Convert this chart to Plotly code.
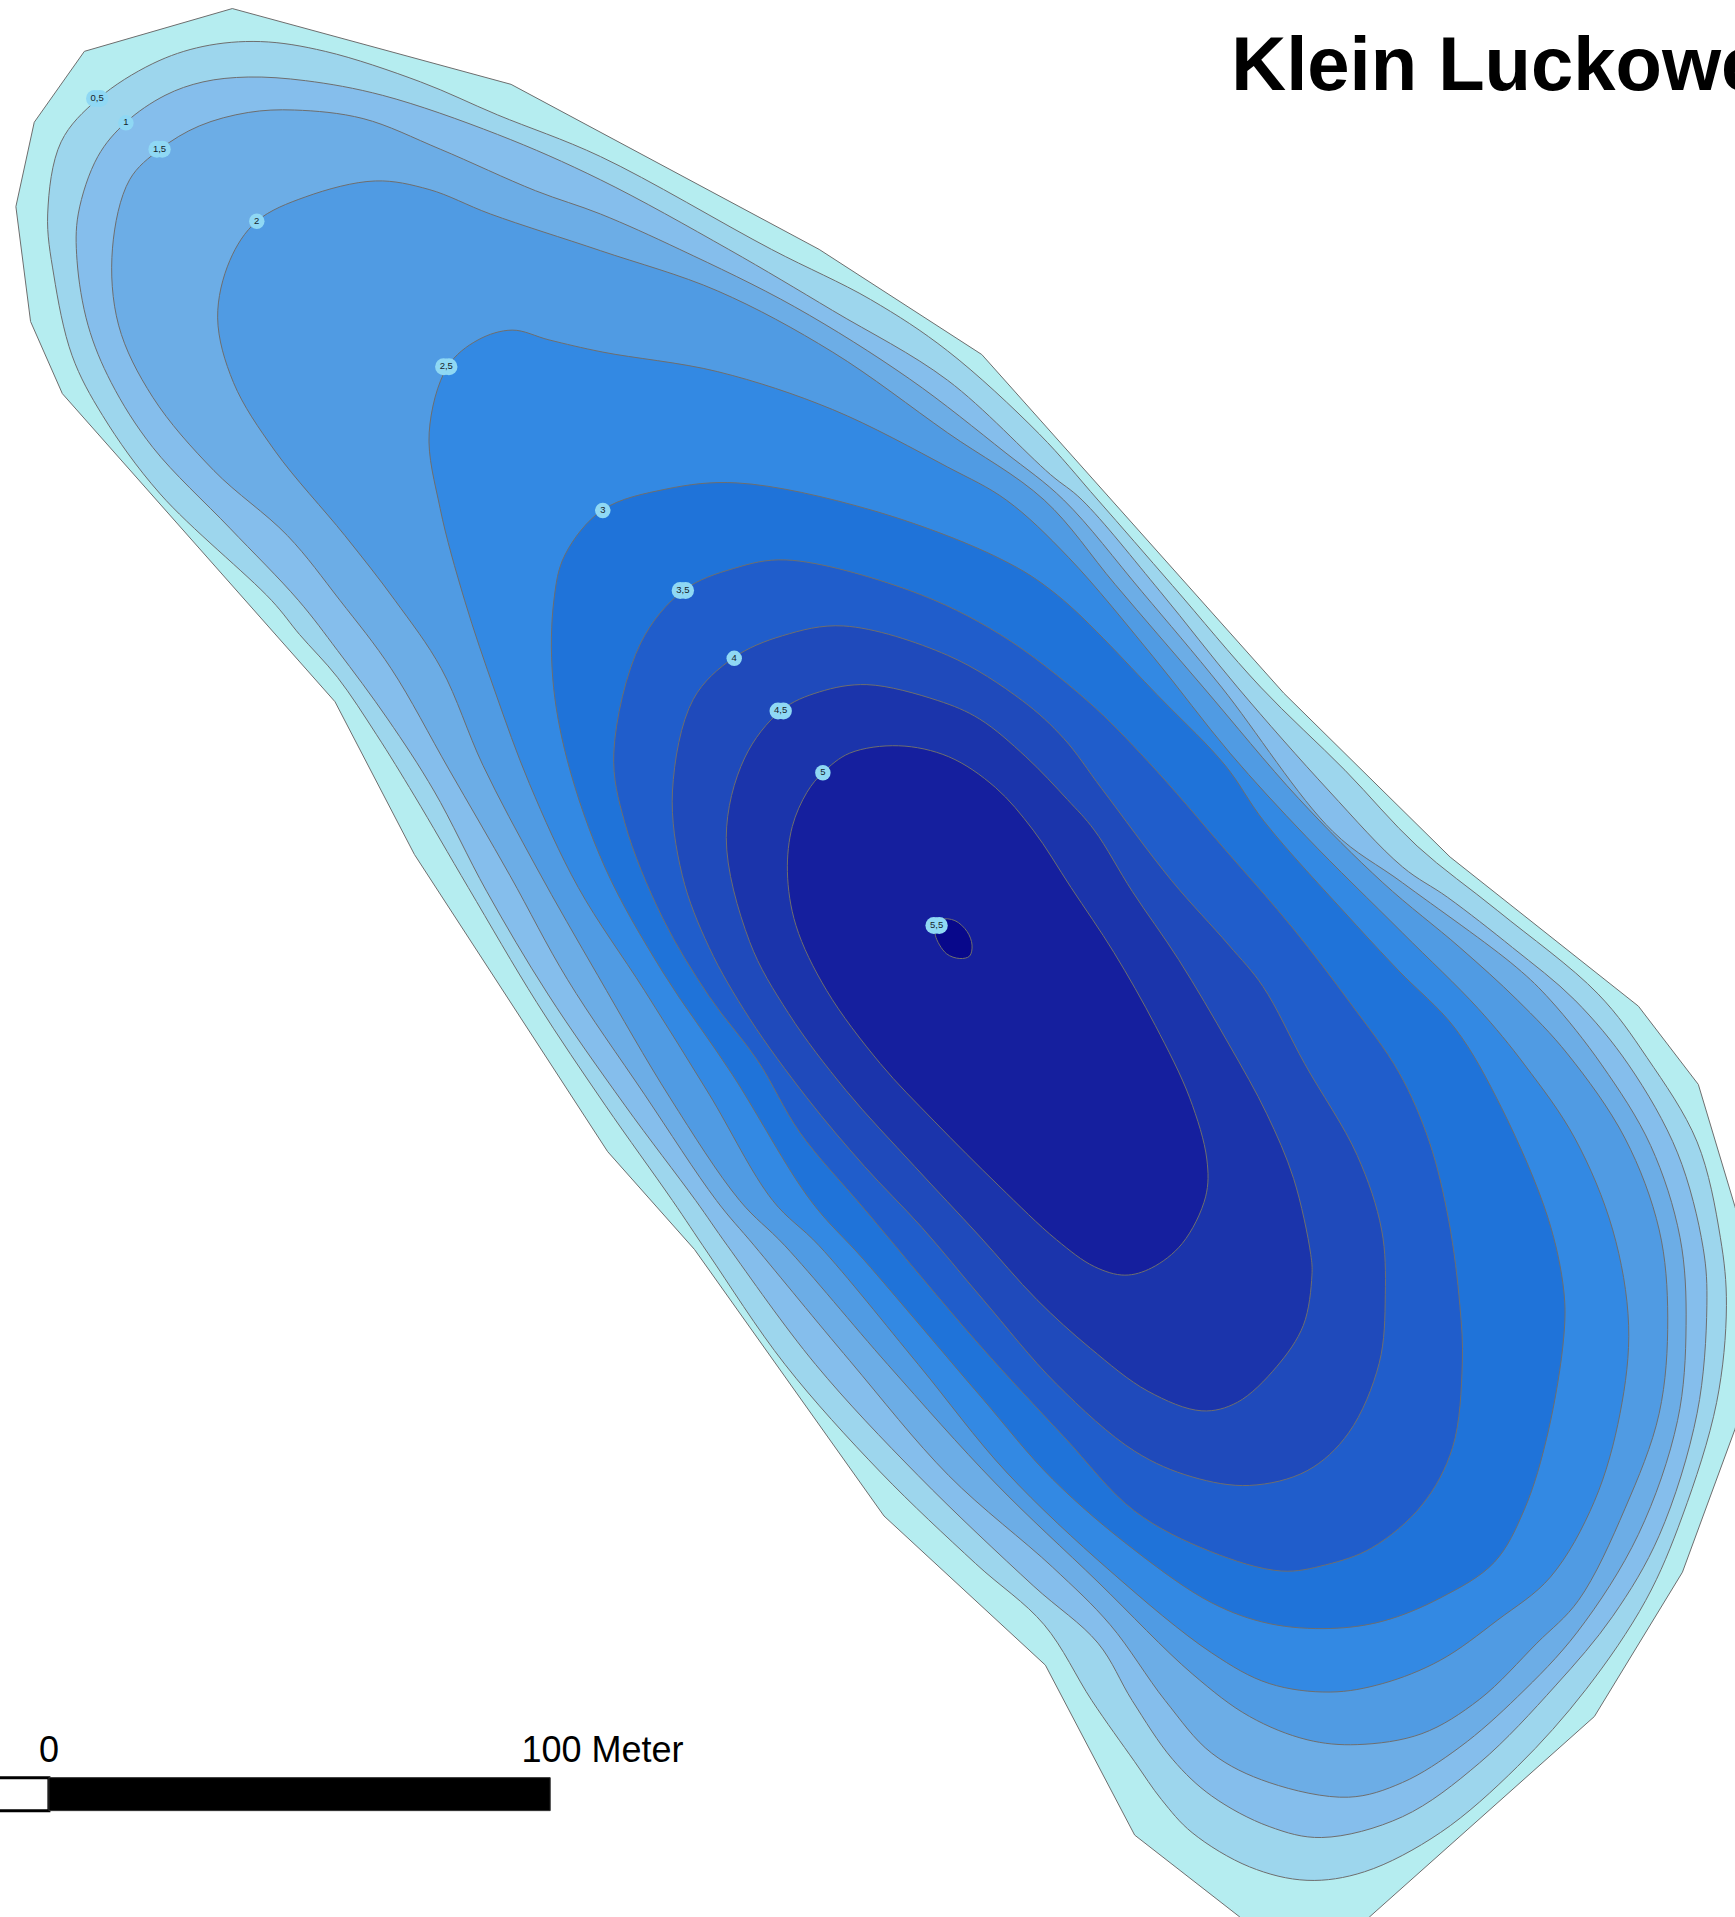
import plotly.graph_objects as go

# Map extent (map units; 410 units = 100 m)
map_width = 1419
map_height = 1568

shore = [(190,7),(418,69),(670,204),(803,290),(1050,567),(1186,701),(1340,823),(1389,887),(1419,987),(1434,1040),(1434,1110),(1419,1169),(1376,1286),(1304,1404),(1120,1568),(1095,1590),(1040,1590),(1014,1568),(928,1501),(855,1362),(723,1240),(568,1022),(497,942),(339,699),(274,574),(51,322),(25,263),(13,169),(28,100),(69,42),(190,7)]

depth_0_5 = [(80,81),(125,52),(166,38),(213,34),(266,42),(344,67),(407,94),(491,128),(631,204),(712,245),(775,287),(850,355),(898,409),(959,479),(1031,562),(1100,630),(1159,692),(1225,745),(1307,813),(1347,865),(1388,934),(1407,1012),(1412,1068),(1404,1147),(1376,1240),(1346,1309),(1297,1382),(1241,1445),(1178,1499),(1116,1531),(1069,1538),(1022,1527),(975,1499),(950,1472),(928,1441),(893,1391),(854,1329),(798,1279),(720,1204),(642,1116),(579,1025),(550,982),(495,904),(439,820),(383,726),(339,651),(308,601),(276,554),(245,519),(222,491),(131,404),(84,340),(59,291),(44,225),(39,175),(50,116),(80,81)]

depth_1 = [(103,100),(135,78),(166,67),(203,63),(250,66),(313,78),(407,110),(491,147),(596,204),(681,254),(775,311),(859,388),(885,409),(949,484),(1012,562),(1087,647),(1147,709),(1184,734),(1237,775),(1288,818),(1332,871),(1372,943),(1393,1021),(1396,1068),(1388,1156),(1357,1256),(1319,1322),(1272,1379),(1210,1442),(1147,1486),(1081,1503),(1038,1494),(991,1469),(959,1439),(926,1391),(898,1344),(845,1297),(751,1207),(667,1116),(595,1019),(569,982),(511,904),(448,813),(398,729),(355,647),(317,588),(276,532),(244,491),(188,432),(125,366),(91,313),(72,266),(63,213),(64,175),(80,128),(103,100)]

depth_1_5 = [(131,122),(163,103),(203,92),(241,90),(297,97),(360,122),(438,156),(491,175),(556,204),(650,251),(744,310),(822,370),(870,409),(934,484),(999,562),(1090,680),(1147,722),(1240,791),(1268,818),(1310,871),(1350,937),(1374,1012),(1379,1084),(1372,1162),(1340,1255),(1290,1335),(1241,1388),(1194,1429),(1147,1458),(1103,1470),(1038,1458),(991,1434),(953,1391),(908,1329),(861,1282),(776,1207),(695,1113),(617,1019),(586,982),(527,895),(464,801),(417,716),(367,629),(320,547),(278,491),(235,438),(175,385),(125,325),(97,266),(92,203),(106,147),(131,122)]

depth_2 = [(210,181),(250,161),(307,148),(351,155),(401,175),(491,205),(587,238),(681,288),(775,354),(854,409),(912,478),(984,562),(1062,653),(1131,722),(1194,775),(1241,818),(1282,862),(1329,931),(1357,1006),(1364,1078),(1357,1156),(1329,1234),(1291,1309),(1257,1344),(1210,1390),(1163,1418),(1110,1427),(1069,1423),(1022,1404),(975,1369),(898,1294),(814,1213),(726,1116),(642,1019),(605,982),(548,898),(489,798),(439,710),(395,626),(361,547),(323,491),(282,438),(225,369),(191,313),(178,260),(188,213),(210,181)]

depth_2_5 = [(366,300),(391,278),(419,270),(449,278),(493,288),(587,304),(681,335),(775,382),(823,409),(874,456),(943,537),(1006,616),(1068,684),(1147,763),(1209,825),(1247,871),(1288,931),(1319,1006),(1332,1084),(1325,1156),(1304,1228),(1268,1290),(1225,1325),(1178,1358),(1131,1377),(1088,1384),(1038,1377),(991,1352),(908,1285),(823,1204),(751,1116),(670,1019),(632,982),(580,895),(527,810),(473,726),(433,641),(405,566),(380,491),(360,416),(351,354),(366,300)]

depth_3 = [(493,417),(545,400),(603,395),(712,417),(818,457),(865,487),(951,573),(1002,626),(1034,672),(1104,751),(1144,794),(1190,841),(1228,906),(1266,996),(1279,1056),(1279,1093),(1266,1172),(1247,1234),(1222,1278),(1178,1307),(1131,1326),(1088,1332),(1038,1328),(991,1311),(928,1268),(861,1210),(801,1141),(707,1031),(663,982),(599,879),(542,795),(495,710),(464,622),(452,554),(453,491),(462,454),(493,417)]

depth_3_5 = [(559,483),(600,465),(643,458),(744,483),(818,519),(889,573),(939,623),(1002,695),(1058,760),(1104,820),(1144,877),(1169,934),(1185,999),(1194,1068),(1196,1115),(1188,1184),(1163,1231),(1122,1266),(1084,1280),(1048,1285),(990,1269),(928,1236),(870,1175),(801,1100),(707,989),(654,926),(620,868),(580,815),(542,751),(511,673),(502,616),(524,526),(559,483)]

depth_4 = [(600,538),(640,520),(690,512),(775,536),(836,573),(870,604),(901,645),(958,720),(1005,773),(1033,807),(1067,870),(1110,945),(1130,1006),(1133,1059),(1128,1115),(1103,1172),(1069,1203),(1022,1215),(975,1208),(928,1187),(864,1132),(804,1063),(754,1004),(707,954),(660,898),(613,833),(580,775),(558,716),(550,647),(567,572),(600,538)]

depth_4_5 = [(639,581),(670,566),(709,560),(767,573),(801,588),(839,619),(873,654),(895,679),(926,729),(964,785),(1005,854),(1036,911),(1058,964),(1072,1026),(1073,1043),(1066,1084),(1044,1118),(1012,1147),(983,1154),(939,1138),(892,1103),(848,1063),(801,1011),(748,954),(692,892),(645,829),(613,770),(594,685),(609,620),(639,581)]

depth_5 = [(673,632),(695,616),(735,610),(776,619),(814,644),(845,679),(876,726),(911,779),(945,839),(973,898),(987,948),(986,979),(967,1017),(942,1037),(920,1043),(895,1036),(864,1014),(817,970),(764,917),(720,870),(676,810),(651,757),(644,713),(648,676),(660,648),(673,632)]

depth_5_5 = [(766,757),(770,752),(781,753),(791,762),(795,773),(793,782),(785,784),(774,780),(765,765),(766,757)]

depth_fill = ["#B5EDF0","#9DD6ED","#85BEEC","#6CADE6","#509BE3","#3389E3","#1F73D9","#205DCB","#1F4ABB","#1B34AB","#151F9E","#08088B"]

label_text = ["0,5","1","1,5","2","2,5","3","3,5","4","4,5","5","5,5"]
label_x = [79.5,103,130.5,210,365,493,558.5,600.5,638.5,673,766]
label_y = [80.5,100.5,122,181,300,417.5,483,538.5,581.5,632,757]

title_text = "Klein Luckower See"
scale_ticks = ["0","100 Meter"]
scale_x0 = 40
scale_x100 = 450
scale_y_bar = (1454,1481)

LINE = "#6E6E6E"
FONT = "Liberation Sans, Arial, sans-serif"
SKIP = "skip"

fig = go.Figure()

fig.add_trace(go.Scatter(x=[p[0] for p in shore], y=[p[1] for p in shore], mode="lines",
                         fill="toself", fillcolor=depth_fill[0],
                         line=dict(color=LINE, width=1), hoverinfo=SKIP))

rings = [depth_0_5,depth_1,depth_1_5,depth_2,depth_2_5,depth_3,depth_3_5,depth_4,depth_4_5,depth_5,depth_5_5]
for ring, colour in zip(rings, depth_fill[1:]):
    fig.add_trace(go.Scatter(x=[p[0] for p in ring], y=[p[1] for p in ring], mode="lines",
                             fill="toself", fillcolor=colour,
                             line=dict(color=LINE, width=1, shape="spline", smoothing=1.0),
                             hoverinfo=SKIP))

# Contour label halos: wide labels get two overlapping blobs
halo_x, halo_y, halo_size = [], [], []
for t, x, y in zip(label_text, label_x, label_y):
    if "," in t:
        halo_x += [x-2.2, x+2.2]
        halo_y += [y, y]
        halo_size += [17, 17]
    else:
        halo_x.append(x); halo_y.append(y); halo_size.append(15.5)
fig.add_trace(go.Scatter(x=halo_x, y=halo_y, mode="markers",
                         marker=dict(color="#8FD8F4", size=halo_size, opacity=1, line=dict(width=0)),
                         hoverinfo=SKIP))
fig.add_trace(go.Scatter(x=label_x, y=label_y, mode="text", text=label_text,
                         textposition="middle center",
                         textfont=dict(family=FONT, size=9.5, color="#16242c"),
                         hoverinfo=SKIP))

# Title (runs off the right edge, as in the reference)
fig.add_trace(go.Scatter(x=[1007], y=[58], mode="text", text=[f"<b>{title_text}</b>"],
                         textposition="middle right",
                         textfont=dict(family=FONT, size=76, color="#000000"),
                         hoverinfo=SKIP))

# Scale bar
fig.add_shape(type="rect", x0=-20, x1=scale_x0, y0=scale_y_bar[0], y1=scale_y_bar[1],
              fillcolor="#FFFFFF", line=dict(color="#000000", width=3), layer="above")
fig.add_shape(type="rect", x0=scale_x0, x1=scale_x100, y0=scale_y_bar[0], y1=scale_y_bar[1],
              fillcolor="#000000", line=dict(color="#333333", width=1), layer="above")
fig.add_trace(go.Scatter(x=[scale_x0], y=[1434], mode="text", text=[scale_ticks[0]],
                         textposition="middle center",
                         textfont=dict(family=FONT, size=36, color="#000000"), hoverinfo=SKIP))
fig.add_trace(go.Scatter(x=[426.5], y=[1434], mode="text", text=[scale_ticks[1]],
                         textposition="middle right",
                         textfont=dict(family=FONT, size=36, color="#000000"), hoverinfo=SKIP))

fig.update_layout(
    width=1735, height=1917, autosize=False,
    margin=dict(l=0, r=0, t=0, b=0, pad=0),
    paper_bgcolor="#FFFFFF", plot_bgcolor="#FFFFFF",
    showlegend=False,
    xaxis=dict(range=[0, map_width], visible=False, fixedrange=True),
    yaxis=dict(range=[map_height, 0], visible=False, fixedrange=True),
)

fig.write_html("out.html", config={"displayModeBar": False},
               post_script="document.body.style.margin='0';document.body.style.overflow='hidden';")
